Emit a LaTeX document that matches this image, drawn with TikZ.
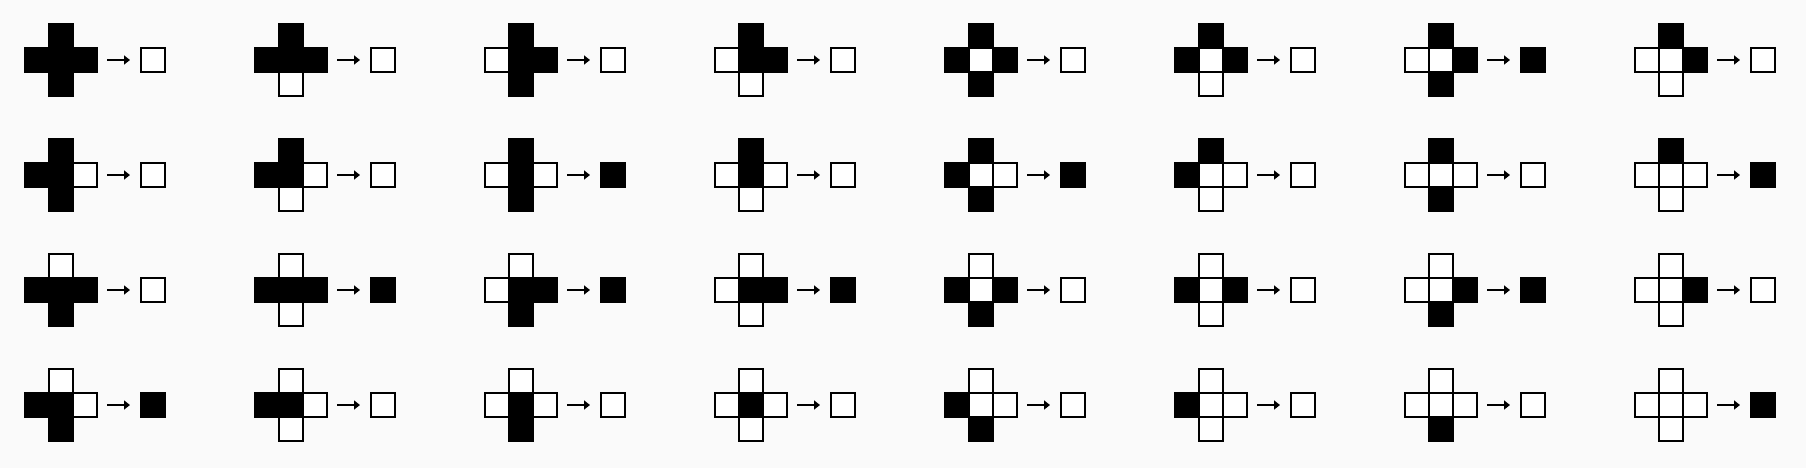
\documentclass[tikz,border=0pt]{standalone}
\usepackage{tikz}
\usetikzlibrary{arrows.meta,positioning}
\definecolor{rulebg}{HTML}{FAFAFA}
\tikzset{
  cell/.style={draw=black, line width=1pt, minimum size=12pt, inner sep=0pt,
    outer sep=0pt, shape=rectangle},
  ruleflow/.style={-{Triangle[length=3pt, width=4.5pt]}, line width=1pt, draw=black,
    shorten <=5pt, shorten >=5.5pt},
}
\begin{document}
\begin{tikzpicture}[x=0.5pt, y=-0.5pt]
% ---------- background / frame ----------
\fill[rulebg] (0,0) rectangle (1806,468);
\useasboundingbox (0,0) rectangle (1806,468);

% ---------- 32 neighbourhood rules, 4 rows x 8 columns ----------
% bits: down (1), left (2), centre (4) vary along a row; right (1), up (2) down the rows
\foreach \o [count=\n from 0] in {0,0,0,0,0,0,1,0,
                                  0,0,1,0,1,0,0,1,
                                  0,1,1,1,0,0,1,0,
                                  1,0,0,0,0,0,0,1}{
  \pgfmathtruncatemacro\rr{int(\n/8)}
  \pgfmathtruncatemacro\cc{mod(\n,8)}
  \pgfmathsetmacro\cx{61+230*\cc}
  \pgfmathsetmacro\cy{60+115*\rr}
  % shade of each cell: 100 = black, 0 = white
  \pgfmathtruncatemacro\kd{100*(1-mod(\cc,2))}
  \pgfmathtruncatemacro\kl{100*(1-mod(int(\cc/2),2))}
  \pgfmathtruncatemacro\km{100*(1-int(\cc/4))}
  \pgfmathtruncatemacro\kr{100*(1-mod(\rr,2))}
  \pgfmathtruncatemacro\ku{100*(1-int(\rr/2))}
  \pgfmathtruncatemacro\ko{100*\o}
  \node[cell, fill=black!\km] (m-\n) at (\cx,\cy) {};
  \node[cell, fill=black!\ku] (u-\n) at (\cx,\cy-24) {};
  \node[cell, fill=black!\kl] (l-\n) at (\cx-24,\cy) {};
  \node[cell, fill=black!\kr] (r-\n) at (\cx+24,\cy) {};
  \node[cell, fill=black!\kd] (d-\n) at (\cx,\cy+24) {};
  \node[cell, fill=black!\ko] (o-\n) at (\cx+92,\cy) {};
  \draw[ruleflow] (r-\n.east) -- (o-\n.west);
}
\end{tikzpicture}
\end{document}
